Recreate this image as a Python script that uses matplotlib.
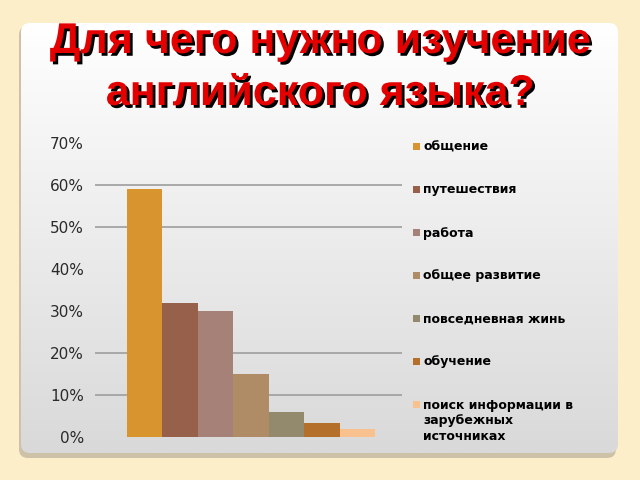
import numpy as np
import matplotlib

matplotlib.use("Agg")
import matplotlib.pyplot as plt
import matplotlib.patheffects as pe
from matplotlib.patches import FancyBboxPatch, Rectangle
from matplotlib.colors import LinearSegmentedColormap
from matplotlib.ticker import PercentFormatter

categories = [
    "общение",
    "путешествия",
    "работа",
    "общее развитие",
    "повседневная жинь",
    "обучение",
    "поиск информации в\nзарубежных\nисточниках",
]
values = [0.59, 0.32, 0.30, 0.15, 0.06, 0.033, 0.018]
colors = ["#D8952F", "#97604A", "#A68177", "#AF8B66", "#938A6D", "#B46F2B", "#F8C18E"]
yticks = [0, 0.1, 0.2, 0.3, 0.4, 0.5, 0.6, 0.7]
grid_levels = [0.1, 0.2, 0.5, 0.6]
title_lines = ["Для чего нужно изучение", "английского языка?"]

W, H = 640, 480
fig = plt.figure(figsize=(6.4, 4.8), dpi=100, facecolor="#FDEECA")

# background panel in pixel coordinates
bg = fig.add_axes([0, 0, 1, 1])
bg.axis("off")
shadow = FancyBboxPatch((19, 26), 597, 432, boxstyle="round,pad=0,rounding_size=9",
                        fc="#CDC2A8", ec="none", zorder=1)
bg.add_patch(shadow)
panel = FancyBboxPatch((21, 23), 597, 430, boxstyle="round,pad=0,rounding_size=9",
                       fc="none", ec="none", zorder=1)
bg.add_patch(panel)
cmap = LinearSegmentedColormap.from_list("g", ["#FFFFFF", "#D9D9D9"])
grad = np.linspace(0, 1, 256).reshape(-1, 1)
im = bg.imshow(grad, extent=(21, 618, 453, 23), cmap=cmap, aspect="auto",
               origin="upper", zorder=2)
im.set_clip_path(panel)
bg.set_xlim(0, W)
bg.set_ylim(H, 0)

# title
for i, line in enumerate(title_lines):
    fig.text(0.5, 1 - (42 + 52 * i) / H, line, ha="center", va="center",
             fontsize=31, fontweight="bold", family="Liberation Sans", color="#E50000",
             path_effects=[pe.withSimplePatchShadow(offset=(2, -2), shadow_rgbFace="black", alpha=1)])

# chart
ax = fig.add_axes([95 / W, 1 - 437 / H, (402 - 95) / W, (437 - 143) / H])
ax.set_facecolor("none")
for lv in grid_levels:
    ax.axhline(lv, color="#A3A3A3", lw=1.3, zorder=1)
x = np.arange(len(values))
bars = ax.bar(x, values, width=1.0, color=colors, zorder=2)
ax.set_xlim(-1.403, 7.262)
ax.set_ylim(0, 0.7)
ax.set_yticks(yticks)
ax.yaxis.set_major_formatter(PercentFormatter(1.0, decimals=0))
ax.set_xticks([])
ax.tick_params(axis="y", length=0, pad=8, labelsize=11, labelcolor="#2A2A2A")
for s in ax.spines.values():
    s.set_visible(False)

# legend: square marker aligned with first line of each label
for i, (lab, c) in enumerate(zip(categories, colors)):
    yc = 146 + 43 * i
    bg.add_patch(Rectangle((413, yc - 3.5), 7, 7, fc=c, ec="none", zorder=3))
    bg.text(423, yc - 5.5, lab, ha="left", va="top", fontsize=9, fontweight="bold",
            family="DejaVu Sans", color="black", linespacing=1.25, zorder=3)

fig.savefig("out.png", dpi=100, facecolor=fig.get_facecolor())
